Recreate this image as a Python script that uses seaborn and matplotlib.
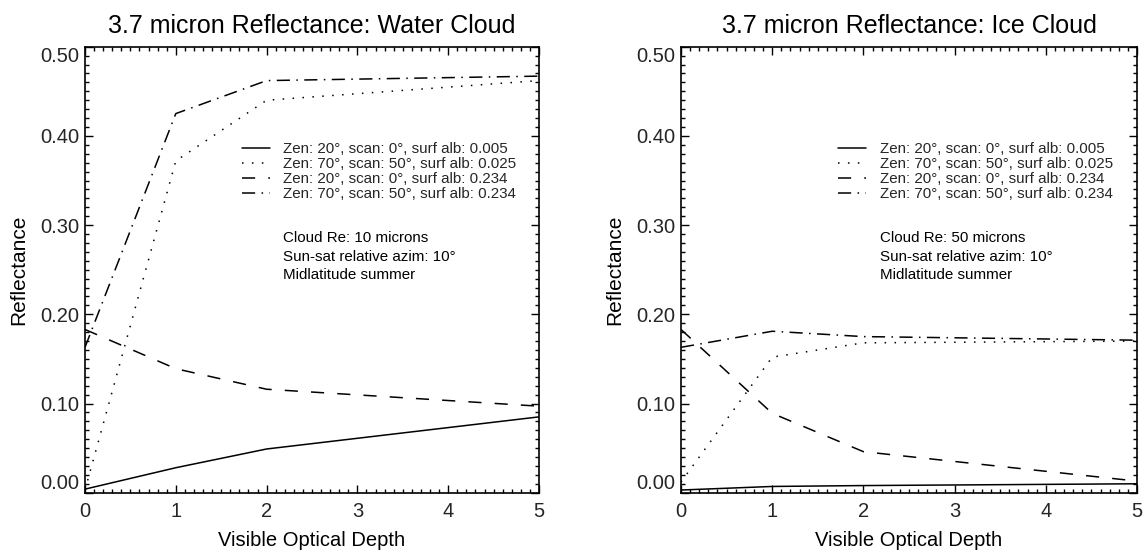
import matplotlib
matplotlib.use("Agg")
import matplotlib.pyplot as plt
import seaborn as sns
from matplotlib.ticker import MultipleLocator
from matplotlib.lines import Line2D

# ---------------- data ----------------
optical_depth = [0, 1, 2, 5]

water_solid = [0.004, 0.028, 0.049, 0.085]
water_dotted = [0.003, 0.372, 0.440, 0.462]
water_dashed = [0.183, 0.139, 0.116, 0.097]
water_dashdot = [0.163, 0.425, 0.462, 0.467]

ice_solid = [0.003, 0.007, 0.008, 0.010]
ice_dotted = [0.012, 0.152, 0.168, 0.170]
ice_dashed = [0.183, 0.089, 0.046, 0.013]
ice_dashdot = [0.163, 0.181, 0.175, 0.171]

series_labels = [
    "Zen: 20°, scan: 0°, surf alb: 0.005",
    "Zen: 70°, scan: 50°, surf alb: 0.025",
    "Zen: 20°, scan: 0°, surf alb: 0.234",
    "Zen: 70°, scan: 50°, surf alb: 0.234",
]
titles = ["3.7 micron Reflectance: Water Cloud", "3.7 micron Reflectance: Ice Cloud"]
notes = [
    ["Cloud Re: 10 microns", "Sun-sat relative azim: 10°", "Midlatitude summer"],
    ["Cloud Re: 50 microns", "Sun-sat relative azim: 10°", "Midlatitude summer"],
]
x_ticks = [0, 1, 2, 3, 4, 5]
y_ticks = [0.0, 0.1, 0.2, 0.3, 0.4, 0.5]
y_tick_labels = ["0.00", "0.10", "0.20", "0.30", "0.40", "0.50"]
x_label = "Visible Optical Depth"
y_label = "Reflectance"

panels = [
    [water_solid, water_dotted, water_dashed, water_dashdot],
    [ice_solid, ice_dotted, ice_dashed, ice_dashdot],
]

# ---------------- styling ----------------
sns.set_style("ticks")
plt.rcParams["font.family"] = ["Liberation Sans", "DejaVu Sans"]
plt.rcParams["axes.linewidth"] = 1.2

line_styles = ["-", (0, (1, 5.5)), (0, (8.6, 8.6)), (0, (8.6, 4.2, 1, 4.2))]

fig = plt.figure(figsize=(11.44, 5.54), dpi=100)
ax_pos = [
    [85 / 1144, 1 - 492.7 / 554, 454 / 1144, 446 / 554],
    [681 / 1144, 1 - 492.7 / 554, 456 / 1144, 446 / 554],
]

for p in range(2):
    ax = fig.add_axes(ax_pos[p])
    handles = []
    for s, vals in enumerate(panels[p]):
        sns.lineplot(x=optical_depth, y=vals, ax=ax, color="black",
                     linewidth=1.1, linestyle=line_styles[s])
        handles.append(Line2D([], [], color="black", linewidth=1.1,
                              linestyle=line_styles[s]))

    ax.set_xlim(0, 5)
    ax.set_ylim(0, 0.5)
    ax.set_xticks(x_ticks)
    ax.set_xticklabels([str(v) for v in x_ticks])
    ax.set_yticks(y_ticks)
    ax.set_yticklabels(y_tick_labels)
    ax.xaxis.set_minor_locator(MultipleLocator(0.1))
    ax.yaxis.set_minor_locator(MultipleLocator(0.01))
    ax.tick_params(which="both", direction="in", top=True, right=True,
                   color="black", width=1.0)
    ax.tick_params(which="major", length=5.8, labelsize=14.5)
    ax.tick_params(which="minor", length=3.1)
    ax.tick_params(axis="x", which="major", pad=7)
    ax.tick_params(axis="y", which="major", pad=4)
    ylabels = ax.get_yticklabels()
    ylabels[0].set_verticalalignment("bottom")
    ylabels[-1].set_verticalalignment("top")

    for sp in ax.spines.values():
        sp.set_color("black")
        sp.set_linewidth(1.2)

    ax.set_title(titles[p], fontsize=18, pad=10, color="black")
    ax.set_xlabel(x_label, fontsize=14.5, color="black")
    ax.set_ylabel(y_label, fontsize=15, color="black")
    ax.xaxis.set_label_coords(0.5, -0.085)
    ax.yaxis.set_label_coords(-0.125, 0.5)

    ax.legend(handles, series_labels, loc="upper left",
              bbox_to_anchor=(0.345, 0.786), frameon=False,
              fontsize=10.9, handlelength=1.85, handletextpad=0.9,
              borderpad=0, borderaxespad=0, labelspacing=0.06)
    for k, (txt, yy) in enumerate(zip(notes[p], [0.572, 0.529, 0.488])):
        ax.text(0.437, yy, txt, transform=ax.transAxes, fontsize=10.9,
                va="center", ha="left", color="black")

fig.savefig("out.png", dpi=100, facecolor="white")
